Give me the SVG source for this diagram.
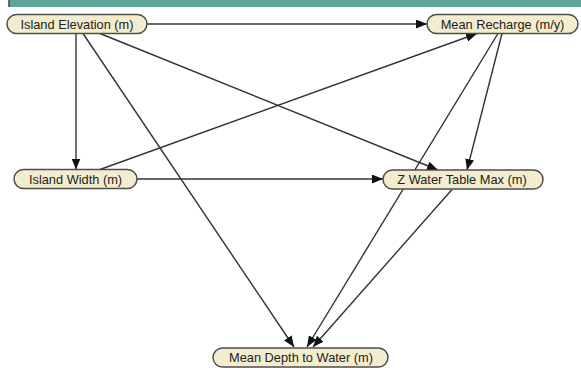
<svg xmlns="http://www.w3.org/2000/svg" width="581" height="368" viewBox="0 0 581 368">
<style>
.node rect{fill:#f4ecce;stroke:#4d4d4d;stroke-width:1.5}
.node text{font-family:"Liberation Sans",Arial,sans-serif;font-size:12.8px;fill:#222;text-anchor:middle}
.edge{stroke:#333;stroke-width:1.4;fill:none;marker-end:url(#ah)}
</style>
<defs>
<marker id="ah" viewBox="0 0 11 9" refX="11" refY="4.5" markerWidth="11" markerHeight="9" markerUnits="userSpaceOnUse" orient="auto">
<path d="M0,0 L11,4.5 L0,9 Z" fill="#111"/>
</marker>
</defs>
<rect x="0" y="0" width="581" height="368" fill="#ffffff"/>
<rect x="9" y="-2" width="573" height="9" fill="#5fa59c"/>
<line x1="9" y1="0" x2="9" y2="7" stroke="#2f4f4a" stroke-width="1.5"/>
<g id="connectors">
<path class="edge" d="M147,24 L427,24"/>
<path class="edge" d="M76,33.5 L76,169.5"/>
<path class="edge" d="M100,33.5 L438,170"/>
<path class="edge" d="M83,33.5 L294,347"/>
<path class="edge" d="M100,169.5 L477,33.5"/>
<path class="edge" d="M137,179 L383,179"/>
<path class="edge" d="M502,33.5 L467,170"/>
<path class="edge" d="M498,33.5 L307,347"/>
<path class="edge" d="M452,189.5 L313,347"/>
</g>
<g id="n-island-elevation" class="node">
<rect x="7" y="14.5" width="140" height="19" rx="9.5"/>
<text x="77" y="28.6">Island Elevation (m)</text>
</g>
<g id="n-mean-recharge" class="node">
<rect x="427" y="14.5" width="151" height="19" rx="9.5"/>
<text x="502.5" y="28.6">Mean Recharge (m/y)</text>
</g>
<g id="n-island-width" class="node">
<rect x="14" y="169.5" width="123" height="19" rx="9.5"/>
<text x="75.5" y="183.6">Island Width (m)</text>
</g>
<g id="n-z-water-table" class="node">
<rect x="383" y="170" width="160" height="19" rx="9.5"/>
<text x="462" y="184.1">Z Water Table Max (m)</text>
</g>
<g id="n-mean-depth" class="node">
<rect x="213" y="348" width="175" height="19" rx="9.5"/>
<text x="301" y="362.1">Mean Depth to Water (m)</text>
</g>
</svg>
